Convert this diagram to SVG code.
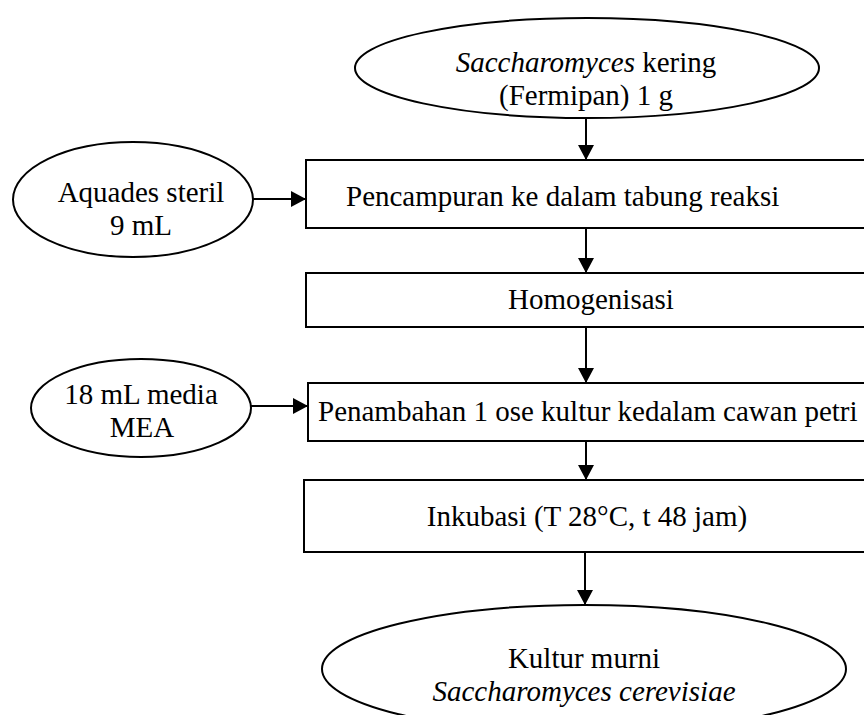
<svg xmlns="http://www.w3.org/2000/svg" width="864" height="715" viewBox="0 0 864 715">
  <style>
    .shape { fill: #ffffff; stroke: #000000; stroke-width: 2; }
    .link { stroke: #000000; stroke-width: 2; fill: none; marker-end: url(#head); }
    text { font-family: "Liberation Serif", "Times New Roman", serif; font-size: 29px; fill: #000000; }
    .mid { text-anchor: middle; }
    .it { font-style: italic; }
  </style>
  <defs>
    <marker id="head" markerUnits="userSpaceOnUse" markerWidth="16" markerHeight="16" refX="15" refY="8" orient="auto">
      <path d="M0,0 L15,8 L0,16 Z" fill="#000000"/>
    </marker>
  </defs>
  <rect width="864" height="715" fill="#ffffff"/>

  <!-- connectors -->
  <g id="connectors">
    <line class="link" x1="586" y1="118" x2="586" y2="160"/>
    <line class="link" x1="253" y1="199" x2="306" y2="199"/>
    <line class="link" x1="586" y1="228" x2="586" y2="273"/>
    <line class="link" x1="586" y1="327" x2="586" y2="383"/>
    <line class="link" x1="251" y1="406" x2="308" y2="406"/>
    <line class="link" x1="586" y1="441" x2="586" y2="480"/>
    <line class="link" x1="585" y1="552" x2="585" y2="605"/>
  </g>

  <!-- start: dried yeast -->
  <g id="yeast">
    <ellipse class="shape" cx="587" cy="68" rx="232" ry="50"/>
    <text class="mid" x="586" y="72"><tspan class="it">Saccharomyces</tspan> kering</text>
    <text class="mid" x="586" y="105">(Fermipan) 1 g</text>
  </g>

  <!-- sterile water input -->
  <g id="aquades">
    <ellipse class="shape" cx="133" cy="199.5" rx="120" ry="57.5"/>
    <text class="mid" x="141" y="202">Aquades steril</text>
    <text class="mid" x="141" y="235">9 mL</text>
  </g>

  <!-- mixing -->
  <g id="mixing">
    <rect class="shape" x="306" y="160" width="570" height="68"/>
    <text x="346" y="206">Pencampuran ke dalam tabung reaksi</text>
  </g>

  <!-- homogenisation -->
  <g id="homogenize">
    <rect class="shape" x="306" y="273" width="570" height="54"/>
    <text x="508" y="309">Homogenisasi</text>
  </g>

  <!-- MEA medium input -->
  <g id="media">
    <ellipse class="shape" cx="141" cy="408" rx="110" ry="49"/>
    <text class="mid" x="141" y="404">18 mL media</text>
    <text class="mid" x="142" y="437">MEA</text>
  </g>

  <!-- inoculation -->
  <g id="inoculate">
    <rect class="shape" x="308" y="383" width="570" height="58"/>
    <text x="318" y="421">Penambahan 1 ose kultur kedalam cawan petri</text>
  </g>

  <!-- incubation -->
  <g id="incubate">
    <rect class="shape" x="304" y="480" width="572" height="72"/>
    <text class="mid" x="587" y="526">Inkubasi (T 28°C, t 48 jam)</text>
  </g>

  <!-- result: pure culture -->
  <g id="culture">
    <ellipse class="shape" cx="584" cy="669" rx="262" ry="64"/>
    <text class="mid" x="584" y="668">Kultur murni</text>
    <text class="mid it" x="584" y="701">Saccharomyces cerevisiae</text>
  </g>
</svg>
